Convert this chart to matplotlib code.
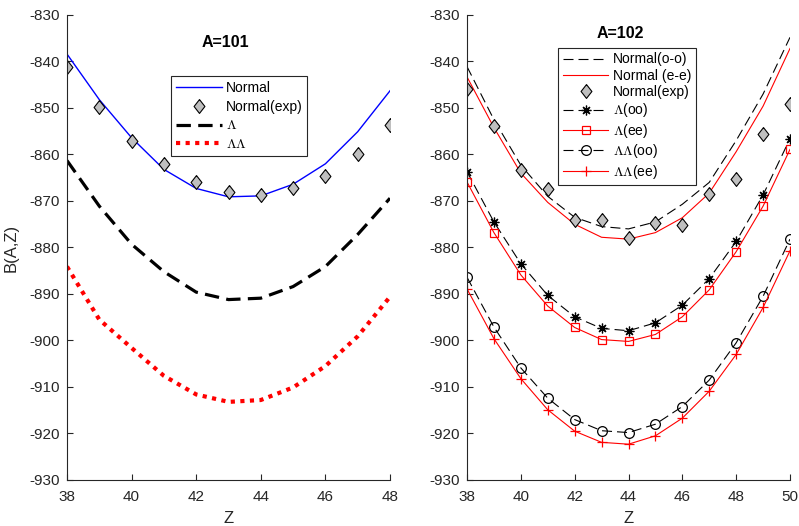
import numpy as np
import matplotlib
matplotlib.use("Agg")
import matplotlib.pyplot as plt

plt.rcParams['font.family'] = ['Liberation Sans', 'DejaVu Sans']
plt.rcParams['mathtext.fontset'] = 'cm'
plt.rcParams['axes.unicode_minus'] = False

# ---------------- data: A=101 ----------------
z101 = [38, 39, 40, 41, 42, 43, 44, 45, 46, 47, 48]
normal101 = [-838.4, -848.2, -856.4, -863.2, -867.3, -869.1, -868.9, -866.4, -862.0, -855.1, -846.3]
exp101 = [-841.1, -849.8, -857.1, -862.0, -865.9, -868.0, -868.7, -867.3, -864.6, -859.8, -853.6]
lam101 = [-861.3, -871.1, -879.3, -885.2, -889.6, -891.2, -890.9, -888.4, -884.1, -877.2, -869.4]
lamlam101 = [-884.1, -895.5, -901.6, -907.6, -911.6, -913.2, -912.8, -910.1, -905.5, -899.1, -890.6]

# ---------------- data: A=102 ----------------
z102 = [38, 39, 40, 41, 42, 43, 44, 45, 46, 47, 48, 49, 50]
normal_oo = [-841.1, -852.5, -862.3, -869.0, -873.5, -875.5, -876.0, -874.5, -870.7, -866.0, -857.0, -847.0, -834.8]
normal_ee = [-843.3, -854.2, -864.0, -870.3, -875.0, -877.8, -878.2, -876.8, -873.6, -868.3, -859.4, -849.6, -837.2]
exp102 = [-845.9, -853.9, -863.4, -867.4, -874.0, -874.1, -877.9, -874.8, -875.2, -868.6, -865.2, -855.5, -849.1]
lam_oo = [-863.7, -874.5, -883.5, -890.3, -894.9, -897.4, -897.9, -896.2, -892.4, -886.7, -878.7, -868.7, -856.6]
lam_ee = [-865.9, -876.8, -885.9, -892.6, -897.2, -899.8, -900.2, -898.7, -894.9, -889.1, -880.9, -871.1, -858.9]
lamlam_oo = [-886.4, -897.1, -905.9, -912.4, -917.0, -919.4, -919.8, -918.0, -914.2, -908.5, -900.5, -890.5, -878.2]
lamlam_ee = [-888.9, -899.6, -908.2, -914.9, -919.5, -921.9, -922.3, -920.5, -916.7, -910.9, -903.0, -892.9, -880.7]

yticks = list(range(-930, -829, 10))
xticks101 = [38, 40, 42, 44, 46, 48]
xticks102 = [38, 40, 42, 44, 46, 48, 50]

axcol = '#262626'
tfs = 11
lfs = 10
diamond = [(0, 1), (0.78, 0), (0, -1), (-0.78, 0), (0, 1)]
thin_dash = (0, (9, 4.5))

fig = plt.figure(figsize=(7.99, 5.26), dpi=100)
ax1 = fig.add_axes([67/799, 46/526, 323/799, 465/526])
ax2 = fig.add_axes([467/799, 46/526, 323/799, 465/526])

def style(ax, xt):
    for s in ['top', 'right']:
        ax.spines[s].set_visible(False)
    for s in ['left', 'bottom']:
        ax.spines[s].set_color(axcol)
        ax.spines[s].set_linewidth(0.8)
    ax.set_ylim(-930, -830)
    ax.set_yticks(yticks)
    ax.set_xticks(xt)
    ax.set_xlim(xt[0], xt[-1])
    ax.tick_params(direction='in', length=4, width=0.8, colors=axcol, labelsize=tfs, pad=5)
    ax.tick_params(axis='x', pad=7)
    ax.set_xlabel('Z', fontsize=tfs + 1, color=axcol, labelpad=5)

# ----- left -----
ax1.plot(z101, normal101, color='#0000ff', lw=1.0, label='Normal')
ax1.plot(z101, exp101, linestyle='none', marker=diamond, markersize=10, markerfacecolor='#bfbfbf',
         markeredgecolor='black', markeredgewidth=0.8, label='Normal(exp)')
ax1.plot(z101, lam101, color='black', lw=2.3, linestyle=(0, (4.5, 2.3)), label=r'$\Lambda$')
ax1.plot(z101, lamlam101, color='red', lw=3.0, linestyle=(0, (1.0, 1.3)), label=r'$\Lambda\Lambda$')
style(ax1, xticks101)
ax1.set_ylabel('B(A,Z)', fontsize=tfs + 1, color=axcol, labelpad=8)
ax1.text(0.489, 0.940, 'A=101', transform=ax1.transAxes, ha='center', va='center',
         fontsize=11.5, fontweight='bold', color='black')
leg1 = ax1.legend(loc='upper left', bbox_to_anchor=(0.322, 0.869), fontsize=lfs, frameon=True,
                  fancybox=False, edgecolor=axcol, framealpha=1, handlelength=3.3,
                  borderpad=0.35, labelspacing=0.35, handletextpad=0.3, borderaxespad=0)
leg1.get_frame().set_linewidth(0.8)

# ----- right -----
ax2.plot(z102, normal_oo, color='black', lw=0.8, linestyle=thin_dash, label='Normal(o-o)')
ax2.plot(z102, normal_ee, color='red', lw=0.8, label='Normal (e-e)')
ax2.plot(z102, exp102, linestyle='none', marker=diamond, markersize=10, markerfacecolor='#bfbfbf',
         markeredgecolor='black', markeredgewidth=0.8, label='Normal(exp)')
ax2.plot(z102, lam_oo, color='black', lw=0.8, linestyle=thin_dash, marker=(8, 2, 0),
         markersize=7, markeredgewidth=0.9, label=r'$\Lambda$(oo)')
ax2.plot(z102, lam_ee, color='red', lw=0.8, marker='s', markersize=5.5, markerfacecolor='none',
         markeredgecolor='red', markeredgewidth=0.9, label=r'$\Lambda$(ee)')
ax2.plot(z102, lamlam_oo, color='black', lw=0.8, linestyle=thin_dash, marker='o', markersize=7,
         markerfacecolor='none', markeredgecolor='black', markeredgewidth=0.9, label=r'$\Lambda\Lambda$(oo)')
ax2.plot(z102, lamlam_ee, color='red', lw=0.8, marker='+', markersize=7, markeredgewidth=0.9,
         label=r'$\Lambda\Lambda$(ee)')
style(ax2, xticks102)
ax2.text(0.474, 0.961, 'A=102', transform=ax2.transAxes, ha='center', va='center',
         fontsize=11.5, fontweight='bold', color='black')
leg2 = ax2.legend(loc='upper left', bbox_to_anchor=(0.281, 0.930), fontsize=lfs, frameon=True,
                  fancybox=False, edgecolor=axcol, framealpha=1, handlelength=3.3,
                  borderpad=0.35, labelspacing=0.17, handletextpad=0.3, borderaxespad=0)
leg2.get_frame().set_linewidth(0.8)

fig.savefig('out.png', dpi=100)
